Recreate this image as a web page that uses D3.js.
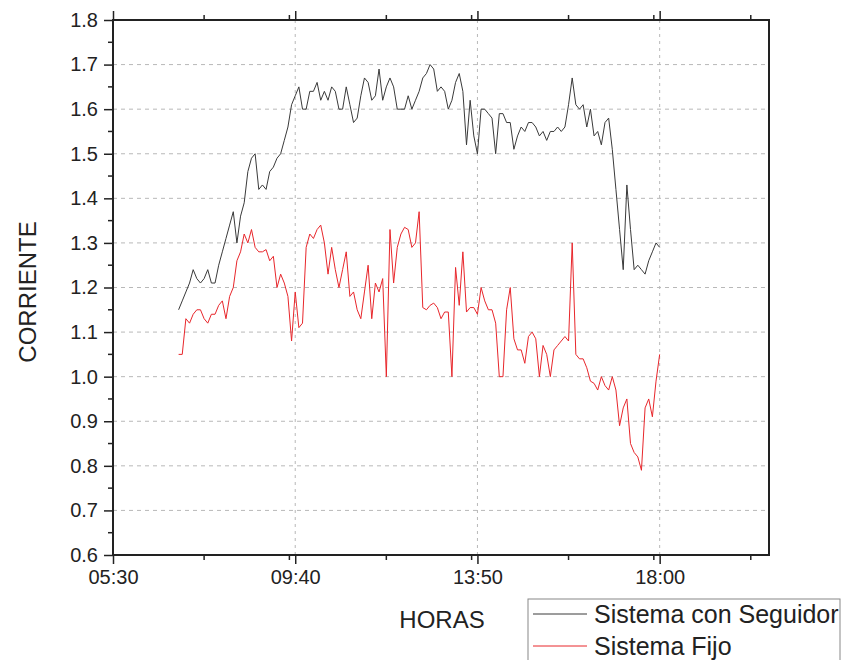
<!DOCTYPE html>
<html>
<head>
<meta charset="utf-8">
<script src="https://cdn.jsdelivr.net/npm/d3@7"></script>
<style>
  html, body { margin: 0; padding: 0; background: #fff; }
  svg { display: block; font-family: "Liberation Sans", Arial, sans-serif; }
</style>
</head>
<body>
<svg id="chart" width="842" height="660"></svg>
<script>
// Readings every 5 minutes, 07:00 – 18:00
const horas = [
  "07:00","07:05","07:10","07:15","07:20","07:25","07:30","07:35","07:40","07:45","07:50","07:55",
  "08:00","08:05","08:10","08:15","08:20","08:25","08:30","08:35","08:40","08:45","08:50","08:55",
  "09:00","09:05","09:10","09:15","09:20","09:25","09:30","09:35","09:40","09:45","09:50","09:55",
  "10:00","10:05","10:10","10:15","10:20","10:25","10:30","10:35","10:40","10:45","10:50","10:55",
  "11:00","11:05","11:10","11:15","11:20","11:25","11:30","11:35","11:40","11:45","11:50","11:55",
  "12:00","12:05","12:10","12:15","12:20","12:25","12:30","12:35","12:40","12:45","12:50","12:55",
  "13:00","13:05","13:10","13:15","13:20","13:25","13:30","13:35","13:40","13:45","13:50","13:55",
  "14:00","14:05","14:10","14:15","14:20","14:25","14:30","14:35","14:40","14:45","14:50","14:55",
  "15:00","15:05","15:10","15:15","15:20","15:25","15:30","15:35","15:40","15:45","15:50","15:55",
  "16:00","16:05","16:10","16:15","16:20","16:25","16:30","16:35","16:40","16:45","16:50","16:55",
  "17:00","17:05","17:10","17:15","17:20","17:25","17:30","17:35","17:40","17:45","17:50","17:55",
  "18:00"
];

// Current with the solar tracker
const seguidor = [
  1.15,1.17,1.19,1.21,1.24,1.22,1.21,1.22,1.24,1.21,1.21,1.25,
  1.28,1.31,1.34,1.37,1.30,1.36,1.39,1.46,1.49,1.50,1.42,1.43,
  1.42,1.46,1.47,1.49,1.50,1.53,1.56,1.61,1.63,1.65,1.60,1.60,
  1.64,1.64,1.66,1.62,1.64,1.62,1.65,1.64,1.60,1.60,1.65,1.61,
  1.57,1.58,1.63,1.67,1.66,1.62,1.63,1.69,1.62,1.65,1.67,1.65,
  1.60,1.60,1.60,1.63,1.60,1.62,1.64,1.67,1.68,1.70,1.69,1.64,
  1.65,1.64,1.60,1.62,1.66,1.68,1.64,1.52,1.62,1.54,1.50,1.60,
  1.60,1.59,1.58,1.50,1.59,1.59,1.57,1.57,1.51,1.54,1.56,1.55,
  1.57,1.57,1.56,1.54,1.55,1.53,1.55,1.55,1.56,1.55,1.56,1.61,
  1.67,1.61,1.60,1.61,1.56,1.60,1.54,1.55,1.52,1.57,1.58,1.51,
  1.42,1.33,1.24,1.43,1.33,1.24,1.25,1.24,1.23,1.26,1.28,1.30,
  1.29
];

// Current with the fixed panel
const fijo = [
  1.05,1.05,1.13,1.12,1.14,1.15,1.15,1.13,1.12,1.14,1.14,1.16,
  1.17,1.13,1.18,1.20,1.26,1.28,1.32,1.30,1.33,1.29,1.28,1.28,
  1.285,1.26,1.27,1.20,1.23,1.21,1.18,1.08,1.19,1.11,1.12,1.29,
  1.32,1.31,1.33,1.34,1.30,1.23,1.29,1.24,1.20,1.24,1.28,1.18,
  1.19,1.15,1.13,1.19,1.25,1.13,1.21,1.19,1.22,1.00,1.33,1.21,
  1.29,1.32,1.335,1.33,1.29,1.30,1.37,1.155,1.15,1.16,1.165,1.155,
  1.13,1.145,1.145,1.00,1.245,1.16,1.28,1.145,1.155,1.155,1.14,1.20,
  1.17,1.15,1.15,1.12,1.00,1.00,1.15,1.20,1.085,1.06,1.06,1.03,
  1.09,1.10,1.085,1.00,1.07,1.05,1.00,1.06,1.07,1.08,1.09,1.08,
  1.30,1.05,1.04,1.04,1.02,0.99,0.985,0.97,1.00,0.98,0.97,1.00,
  0.97,0.89,0.93,0.95,0.85,0.83,0.82,0.79,0.93,0.95,0.91,0.99,
  1.05
];

const ticksHora = ["05:30","09:40","13:50","18:00"];
const ticksMenoresHora = ["07:35","11:45","15:55","20:05"];
const ticksCortosHora = ["09:32","13:42","17:52"];
const ticksCorriente = [0.6,0.7,0.8,0.9,1.0,1.1,1.2,1.3,1.4,1.5,1.6,1.7,1.8];
const ticksMenoresCorriente = [0.65,0.75,0.85,0.95,1.05,1.15,1.25,1.35,1.45,1.55,1.65,1.75];
const nombresSerie = ["Sistema con Seguidor","Sistema Fijo"];
const coloresSerie = ["#3a3a3a","#e8262b"];

const aMinutos = s => { const [h, m] = s.split(":").map(Number); return h * 60 + m; };

const svg = d3.select("#chart");
const L = 113, R = 769, T = 20, B = 555;

const x = d3.scaleLinear().domain([aMinutos("05:30"), aMinutos("20:30")]).range([L, R]);
const y = d3.scaleLinear().domain([0.6, 1.8]).range([B, T]);

// grid
const grid = svg.append("g");
grid.selectAll("line.h").data(ticksCorriente.slice(1, -1)).join("line")
  .attr("x1", L).attr("x2", R)
  .attr("y1", d => y(d)).attr("y2", d => y(d))
  .attr("stroke", "#b8b8b8").attr("stroke-width", 1).attr("stroke-dasharray", "4,4");
grid.selectAll("line.v").data(ticksHora.slice(1)).join("line")
  .attr("x1", d => x(aMinutos(d)) ).attr("x2", d => x(aMinutos(d)))
  .attr("y1", T).attr("y2", B)
  .attr("stroke", "#b8b8b8").attr("stroke-width", 1).attr("stroke-dasharray", "3,4");

// series
const linea = d3.line()
  .x((d, i) => x(aMinutos(horas[i])))
  .y(d => y(d));
[seguidor, fijo].forEach((serie, k) => {
  svg.append("path").datum(serie)
    .attr("d", linea)
    .attr("fill", "none")
    .attr("stroke", coloresSerie[k])
    .attr("stroke-width", 1)
    .attr("stroke-linejoin", "round");
});

// axes
const fmtHora = d => ticksHora.find(t => aMinutos(t) === d) || "";
const ejeX = d3.axisBottom(x).tickValues(ticksHora.map(aMinutos)).tickFormat(fmtHora).tickSize(9).tickPadding(6);
const ejeY = d3.axisLeft(y).tickValues(ticksCorriente).tickFormat(d3.format(".1f")).tickSize(9).tickPadding(6);

function estilo(g) {
  g.select(".domain").remove();
  g.selectAll(".tick line").attr("stroke", "#222").attr("stroke-width", 1.5);
  g.selectAll(".tick text").attr("fill", "#222").style("font-size", "20px")
    .style("font-family", "'Liberation Sans', Arial, sans-serif");
}

svg.append("g").attr("transform", `translate(0,${B})`).call(ejeX).call(estilo);
svg.append("g").attr("transform", `translate(${L},0)`).call(ejeY).call(estilo);
svg.append("g").attr("transform", `translate(0,${T})`)
  .call(d3.axisTop(x).tickValues(ticksHora.map(aMinutos)).tickFormat("").tickSize(9)).call(estilo);

// minor ticks
const menores = svg.append("g").attr("stroke", "#222").attr("stroke-width", 1.5);
ticksMenoresHora.forEach(t => {
  const px = x(aMinutos(t));
  menores.append("line").attr("x1", px).attr("x2", px).attr("y1", B).attr("y2", B + 5);
  menores.append("line").attr("x1", px).attr("x2", px).attr("y1", T).attr("y2", T - 5);
});
ticksCortosHora.forEach(t => {
  const px = x(aMinutos(t));
  menores.append("line").attr("x1", px).attr("x2", px).attr("y1", B).attr("y2", B + 5);
  menores.append("line").attr("x1", px).attr("x2", px).attr("y1", T).attr("y2", T - 5);
});
ticksMenoresCorriente.forEach(v => {
  menores.append("line").attr("x1", L - 5).attr("x2", L).attr("y1", y(v)).attr("y2", y(v));
});

// frame
svg.append("rect").attr("x", L).attr("y", T).attr("width", R - L).attr("height", B - T)
  .attr("fill", "none").attr("stroke", "#222").attr("stroke-width", 2);

// axis titles
svg.append("text").attr("x", 442).attr("y", 628).attr("text-anchor", "middle")
  .style("font-size", "24px").attr("fill", "#222").text("HORAS");
svg.append("text").attr("transform", "translate(36,292) rotate(-90)").attr("text-anchor", "middle")
  .style("font-size", "24px").attr("fill", "#222").text("CORRIENTE");

// legend
const ley = svg.append("g");
ley.append("rect").attr("x", 528).attr("y", 599).attr("width", 312).attr("height", 70)
  .attr("fill", "#fff").attr("stroke", "#888").attr("stroke-width", 1);
nombresSerie.forEach((n, k) => {
  const yy = 614 + k * 32;
  ley.append("line").attr("x1", 533).attr("x2", 587).attr("y1", yy).attr("y2", yy)
    .attr("stroke", coloresSerie[k]).attr("stroke-width", 1);
  ley.append("text").attr("x", 594).attr("y", yy + 9).style("font-size", "25px")
    .attr("fill", "#222").text(n);
});
</script>
</body>
</html>
